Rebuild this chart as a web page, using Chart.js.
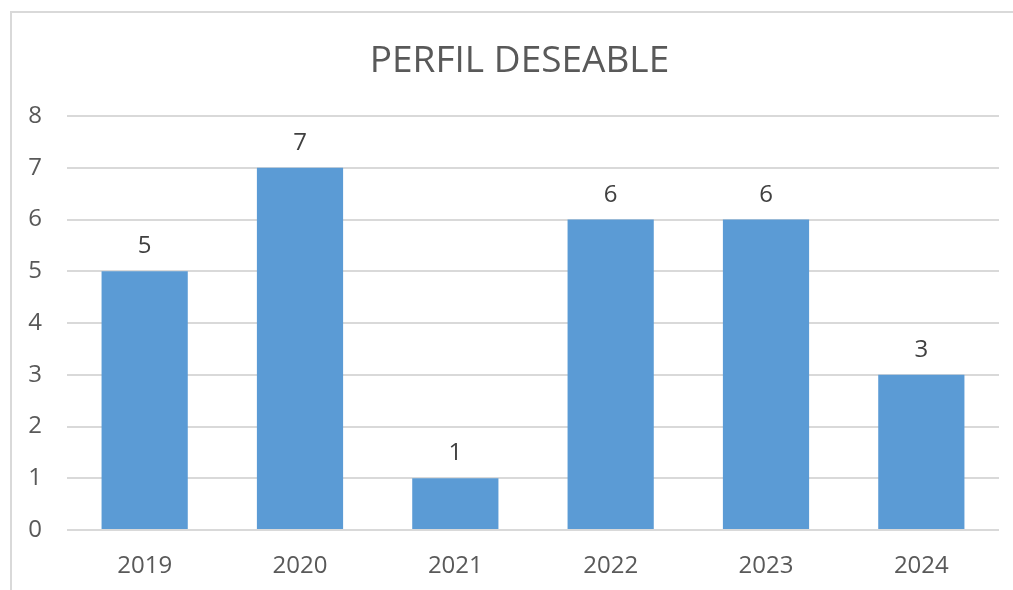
<!DOCTYPE html>
<html>
<head>
<meta charset="utf-8">
<script src="https://cdn.jsdelivr.net/npm/chart.js@4"></script>
<style>
  html, body { margin: 0; padding: 0; background: #fff; }
  #wrap { width: 1013px; height: 590px; position: relative; }
</style>
</head>
<body>
<div id="wrap"><canvas id="myChart"></canvas></div>
<script>
// datos del grafico
const years = ["2019", "2020", "2021", "2022", "2023", "2024"];
const values = [5, 7, 1, 6, 6, 3];
const yTicks = [0, 1, 2, 3, 4, 5, 6, 7, 8];

const textColor = "#595959";
const gridColor = "#d9d9d9";

// marco gris alrededor del grafico
const frame = {
  id: 'frame',
  beforeDraw(chart) {
    const ctx = chart.ctx;
    ctx.save();
    ctx.strokeStyle = gridColor;
    ctx.lineWidth = 2;
    ctx.strokeRect(11, 12, chart.width + 20, chart.height + 20);
    ctx.restore();
  }
};

// etiquetas de valor encima de cada barra
const barLabels = {
  id: 'barLabels',
  afterDatasetsDraw(chart) {
    const ctx = chart.ctx;
    const meta = chart.getDatasetMeta(0);
    ctx.save();
    ctx.font = '24px "Open Sans"';
    ctx.fillStyle = "#404040";
    ctx.textAlign = 'center';
    ctx.textBaseline = 'alphabetic';
    meta.data.forEach((bar, i) => {
      ctx.fillText(values[i], bar.x, bar.y - 18);
    });
    ctx.restore();
  }
};

new Chart(document.getElementById('myChart'), {
  type: 'bar',
  data: {
    labels: years,
    datasets: [{
      data: values,
      backgroundColor: "#5b9bd5",
      barPercentage: 0.555,
      categoryPercentage: 1
    }]
  },
  options: {
    responsive: true,
    maintainAspectRatio: false,
    animation: false,
    layout: { padding: { left: 26, right: 0, top: 0, bottom: 0 } },
    plugins: {
      legend: { display: false },
      tooltip: { enabled: false },
      title: {
        display: true,
        text: 'PERFIL DESEABLE',
        color: textColor,
        font: { family: 'Open Sans', size: 37, weight: 'normal' },
        padding: { top: 39, bottom: 32.6 }
      }
    },
    scales: {
      x: {
        grid: { display: false },
        border: { display: false },
        ticks: {
          color: textColor,
          font: { family: 'Open Sans', size: 24 },
          padding: 14
        },
        afterFit(scale) { scale.height = 60; }
      },
      y: {
        min: 0,
        max: 8,
        afterBuildTicks(scale) { scale.ticks = yTicks.map(v => ({ value: v })); },
        grid: { color: gridColor, lineWidth: 2, drawTicks: false },
        border: { display: false },
        ticks: {
          color: textColor,
          font: { family: 'Open Sans', size: 24 },
          padding: 25
        },
        afterFit(scale) { scale.width = 41; }
      },
      // eje vacio a la derecha, solo deja el margen
      yRight: {
        position: 'right',
        grid: { display: false },
        border: { display: false },
        ticks: { display: false },
        afterFit(scale) { scale.width = 14; }
      }
    }
  },
  plugins: [frame, barLabels]
});
</script>
</body>
</html>
